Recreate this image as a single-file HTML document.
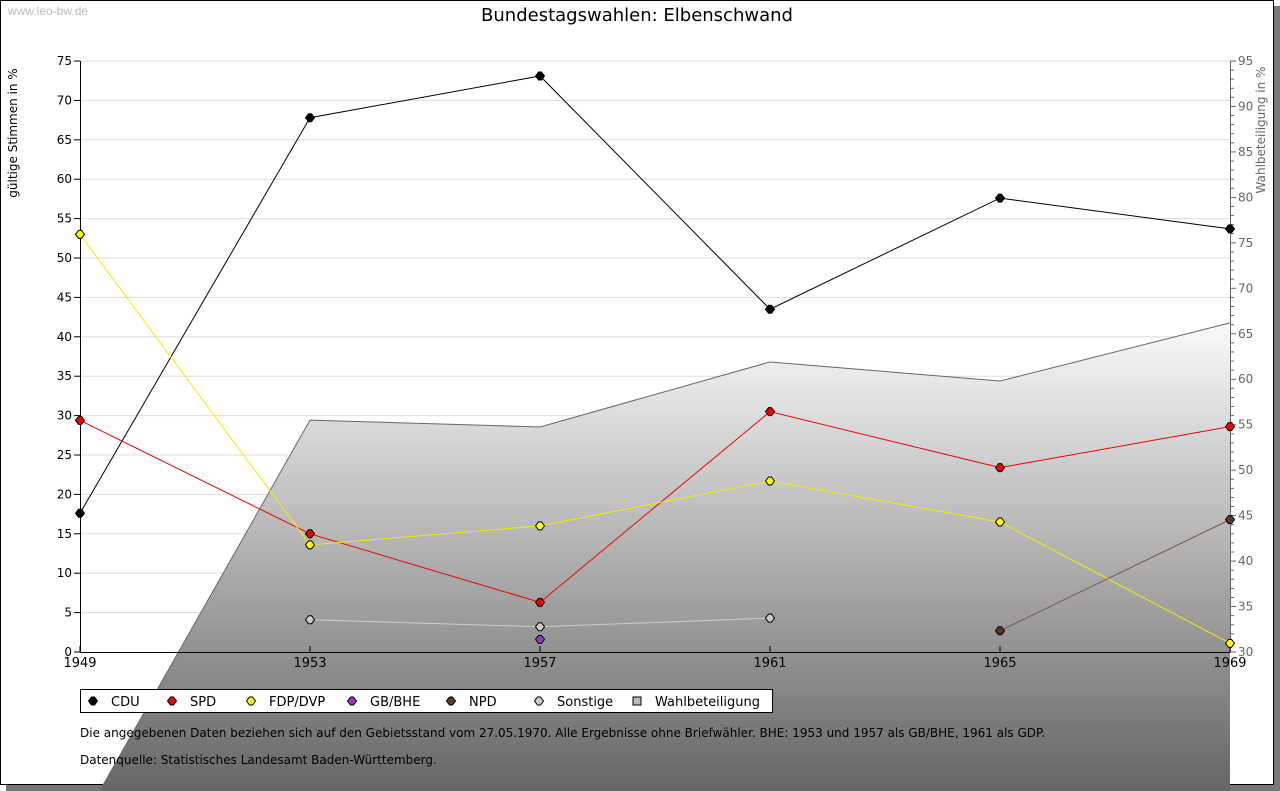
<!DOCTYPE html>
<html><head><meta charset="utf-8"><style>
body{margin:0;background:#fff}
svg{display:block;font-family:"DejaVu Sans","Liberation Sans",sans-serif}
</style></head><body>
<svg id="c" width="1280" height="791" viewBox="0 0 1280 791">
<defs><linearGradient id="g" gradientUnits="userSpaceOnUse" x1="0" y1="320" x2="0" y2="791"><stop offset="0" stop-color="#fafafa"/><stop offset="1" stop-color="#666"/></linearGradient></defs>
<rect x="6" y="6" width="1274" height="785" fill="#777"/>
<rect x="0.5" y="0.5" width="1273" height="784" fill="#fff" stroke="#000"/>
<text x="8" y="15" font-size="12" fill="#bbb" font-family="Liberation Sans,sans-serif">www.leo-bw.de</text>
<text x="637" y="21" font-size="18" text-anchor="middle">Bundestagswahlen: Elbenschwand</text>
<g id="grid"></g>
<g id="area"></g>
<g id="axes"></g>
<g id="series"></g>
<text transform="translate(17,133) rotate(-90)" font-size="12" text-anchor="middle">gültige Stimmen in %</text>
<text transform="translate(1265,130) rotate(-90)" font-size="12" fill="#666" text-anchor="middle">Wahlbeteiligung in %</text>
<g id="legend"></g>
<text x="80" y="737" font-size="12">Die angegebenen Daten beziehen sich auf den Gebietsstand vom 27.05.1970. Alle Ergebnisse ohne Briefwähler. BHE: 1953 und 1957 als GB/BHE, 1961 als GDP.</text>
<text x="80" y="764" font-size="12">Datenquelle: Statistisches Landesamt Baden-Württemberg.</text>
</svg>
<script>
const years=[1949,1953,1957,1961,1965,1969];
const cdu=[17.6,67.8,73.1,43.5,57.6,53.7];
const spd=[29.4,15.0,6.3,30.5,23.4,28.6];
const fdp=[53.0,13.6,16.0,21.7,16.5,1.1];
const gbbhe=[null,null,1.6,null,null,null];
const npd=[null,null,null,null,2.7,16.8];
const sonst=[null,4.1,3.2,4.3,null,null];
const turnout=[10.9,55.5,54.75,61.9,59.8,66.2];
const leftTicks=[0,5,10,15,20,25,30,35,40,45,50,55,60,65,70,75];
const rightTicks=[30,35,40,45,50,55,60,65,70,75,80,85,90,95];
const NS='http://www.w3.org/2000/svg';
const X=y=>80+(y-1949)/20*1150;
const Y=v=>652-v/75*591;
const Y2=v=>652-(v-30)/65*591;
function mk(t,a,p){const e=document.createElementNS(NS,t);for(const k in a)e.setAttribute(k,a[k]);p.appendChild(e);return e;}
const grid=document.getElementById('grid'),axes=document.getElementById('axes'),area=document.getElementById('area'),ser=document.getElementById('series'),leg=document.getElementById('legend');
leftTicks.forEach(v=>{
 if(v>0){const l=mk('line',{x1:80,x2:1230,y1:Y(v),y2:Y(v),stroke:'#ddd'},grid);
 
 }
 mk('line',{x1:74,x2:80,y1:Y(v),y2:Y(v),stroke:'#000'},axes);
 const t=mk('text',{x:72,y:Y(v)+4,'font-size':12,'text-anchor':'end'},axes);t.textContent=v;
 
 
});
let pts=years.map((y,i)=>X(y)+','+Y2(turnout[i])).join(' ');
const poly=mk('polygon',{points:pts+' 1230,791 '+X(1949)+',791',fill:'url(#g)'},area);


const pl=mk('polyline',{points:pts,fill:'none',stroke:'#666'},area);


mk('rect',{x:1231,y:40,width:42,height:744,fill:'#fff'},area);
mk('line',{x1:1273.5,x2:1273.5,y1:0,y2:785,stroke:'#000'},area);
mk('line',{x1:80.5,x2:80.5,y1:61,y2:652,stroke:'#000'},axes);
mk('line',{x1:80,x2:1230,y1:652.5,y2:652.5,stroke:'#000'},axes);
mk('line',{x1:1230.5,x2:1230.5,y1:61,y2:652,stroke:'#666'},axes);
for(let v=30;v<=95;v++){mk('line',{x1:1230,x2:v%5?1234:1236,y1:Y2(v),y2:Y2(v),stroke:'#666'},axes);}
rightTicks.forEach(v=>{const t=mk('text',{x:1238,y:Y2(v)+4,'font-size':12,fill:'#666'},axes);t.textContent=v;
 
 });
years.forEach(y=>{mk('line',{x1:X(y),x2:X(y),y1:646,y2:652,stroke:'#000'},axes);
 const t=mk('text',{x:X(y),y:667,'font-size':13,'text-anchor':'middle'},axes);t.textContent=y;
 
 });
const S=[['CDU',cdu,'#000','#000'],['SPD',spd,'#e00','#e00'],['FDP/DVP',fdp,'#ff0','#ee0'],['GB/BHE',gbbhe,'#93c','#93c'],['NPD',npd,'#5a3a2a','#76584a'],['Sonstige',sonst,'#ccc','#ccc']];
function dia(x,y,f,p){return mk('polygon',{points:`${x-1.5},${y-4} ${x+1.5},${y-4} ${x+4.5},${y} ${x+1.5},${y+4} ${x-1.5},${y+4} ${x-4.5},${y}`,fill:f,stroke:'#000','stroke-width':1},p);}
S.forEach(([n,d,f,lc])=>{
 let seg=[];d.forEach((v,i)=>{if(v!=null)seg.push(X(years[i])+','+Y(v));});
 const l=mk('polyline',{points:seg.join(' '),fill:'none',stroke:lc},ser);
 
 
 d.forEach((v,i)=>{if(v==null)return;const m=dia(X(years[i]),Y(v),f,ser);
 
 });
});
mk('rect',{x:80.5,y:689.5,width:692,height:23,fill:'#fff',stroke:'#000'},leg);
const lx=[93,172,251,352,451,539,637];
S.concat([['Wahlbeteiligung',null,'#bbb']]).forEach(([n,,f],i)=>{
 let m;
 if(n==='Wahlbeteiligung'){m=mk('rect',{x:lx[i]-4,y:697,width:8,height:8,fill:f,stroke:'#000'},leg);}
 else m=dia(lx[i],701,f,leg);
 const t=mk('text',{x:lx[i]+18,y:706,'font-size':13},leg);t.textContent=n;
 
 
});
</script>
</body></html>
